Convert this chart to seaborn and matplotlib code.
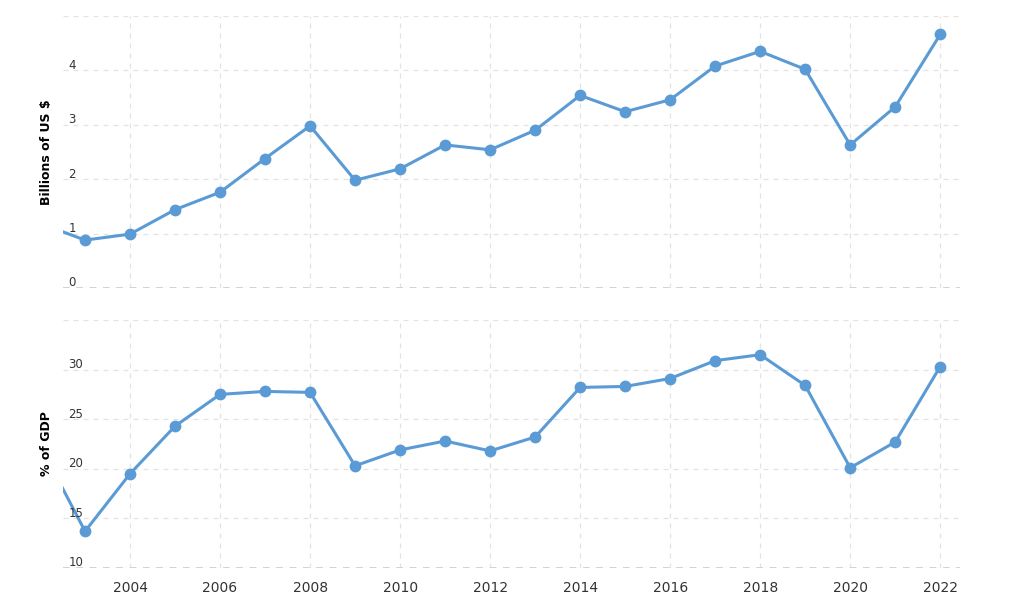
import pandas as pd
import seaborn as sns
import matplotlib.pyplot as plt

years = list(range(2002, 2023))
billions = [1.19, 0.88, 0.99, 1.44, 1.76, 2.38, 2.98, 1.98, 2.19, 2.63, 2.54,
            2.90, 3.54, 3.24, 3.46, 4.08, 4.35, 4.02, 2.63, 3.33, 4.66]
pct_gdp = [22.4, 13.7, 19.5, 24.3, 27.5, 27.8, 27.7, 20.3, 21.9, 22.8, 21.8,
           23.2, 28.2, 28.3, 29.1, 30.9, 31.5, 28.4, 20.1, 22.7, 30.3]

df = pd.DataFrame({'year': years, 'billions': billions, 'pct': pct_gdp})

sns.set_style("white")
plt.rcParams['font.family'] = ['DejaVu Sans']

color = '#5b9bd5'
fig = plt.figure(figsize=(10.24, 6.06), dpi=100)
ax1 = fig.add_axes([0.0615, 0.5248, 0.876, 0.4488])
ax2 = fig.add_axes([0.0615, 0.0627, 0.876, 0.4093])

def style_axis(ax, ticks, ylim, label):
    ax.set_xlim(2002.51, 2022.44)
    ax.set_ylim(*ylim)
    ax.set_xticks(range(2004, 2023, 2))
    ax.set_yticks(ticks)
    ax.grid(True, color='#e3e3e3', linestyle=(0, (4, 4)), linewidth=0.9)
    for s in ax.spines.values():
        s.set_visible(False)
    ax.axhline(ylim[0], color='#cccccc', linestyle=(0, (4, 4)), linewidth=1.2, zorder=1)
    ax.tick_params(axis='y', length=0, labelleft=False)
    # tick labels sit inside the plot, just above the grid line
    for t in ticks[:-1]:
        ax.annotate(str(t), xy=(0, t), xycoords=('axes fraction', 'data'),
                    xytext=(4, -1), textcoords='offset points',
                    ha='left', va='bottom', fontsize=8.5, color='#333333')
    ax.set_ylabel(label, fontsize=9, fontweight='bold', color='black')
    ax.yaxis.set_label_coords(-0.011, 0.5)

sns.lineplot(data=df, x='year', y='billions', ax=ax1, color=color, linewidth=2.2,
             marker='o', markersize=8.5, markeredgewidth=0)
sns.lineplot(data=df, x='year', y='pct', ax=ax2, color=color, linewidth=2.2,
             marker='o', markersize=8.5, markeredgewidth=0)

style_axis(ax1, [0, 1, 2, 3, 4, 5], (0, 5), 'Billions of US $')
style_axis(ax2, [10, 15, 20, 25, 30, 35], (10, 35), '% of GDP')

ax1.set_xlabel('')
ax1.tick_params(axis='x', length=0, labelbottom=False)
ax2.set_xlabel('')
ax2.tick_params(axis='x', length=0, labelsize=10, labelcolor='#333333', pad=9)

fig.savefig('out.png', dpi=100)
